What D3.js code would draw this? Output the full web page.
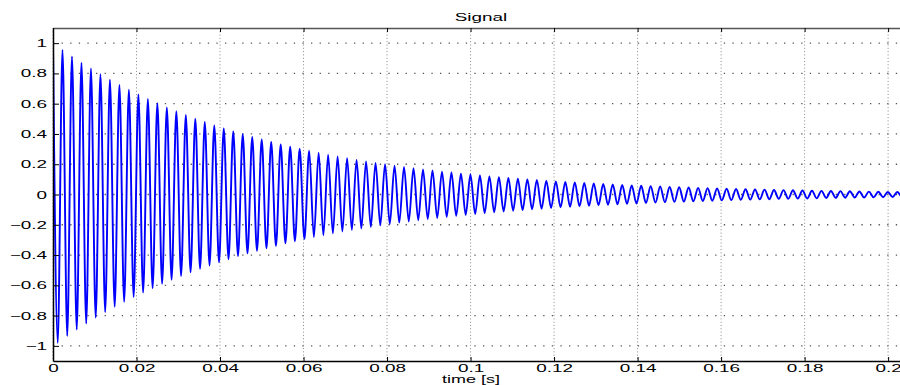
<!DOCTYPE html>
<html>
<head>
<meta charset="utf-8">
<script src="https://cdn.jsdelivr.net/npm/d3@7"></script>
<style>
  body { margin: 0; background: #fff; }
  text { font-family: "Liberation Sans", Arial, Helvetica, sans-serif; fill: #000; }
</style>
</head>
<body>
<div id="chart"></div>
<script>
var svgWidth = 900, svgHeight = 385;
var plot = { left: 53, right: 909, top: 28, bottom: 361 };
var stretch = 1.8; // the reference text is drawn wide

// peak (max) and trough (min) of every cycle
var peaks = [1.000, 0.955, 0.912, 0.871, 0.832, 0.794, 0.759, 0.724, 0.692, 0.661,
  0.631, 0.603, 0.575, 0.550, 0.525, 0.501, 0.479, 0.457, 0.437, 0.417,
  0.398, 0.380, 0.363, 0.347, 0.331, 0.316, 0.302, 0.289, 0.276, 0.263,
  0.251, 0.240, 0.229, 0.219, 0.209, 0.200, 0.191, 0.182, 0.174, 0.166,
  0.159, 0.151, 0.145, 0.138, 0.132, 0.126, 0.120, 0.115, 0.110, 0.105,
  0.100, 0.096, 0.091, 0.087, 0.083, 0.080, 0.076, 0.073, 0.069, 0.066,
  0.063, 0.060, 0.058, 0.055, 0.053, 0.050, 0.048, 0.046, 0.044, 0.042,
  0.040, 0.038, 0.036, 0.035, 0.033, 0.032, 0.030, 0.029, 0.028, 0.026,
  0.025, 0.024, 0.023, 0.022, 0.021, 0.020, 0.019, 0.018, 0.017, 0.017, 0.016];
var troughs = [-0.980, -0.935, -0.893, -0.853, -0.814, -0.777, -0.742, -0.709, -0.677, -0.648,
  -0.619, -0.590, -0.563, -0.538, -0.514, -0.491, -0.469, -0.448, -0.428, -0.408,
  -0.389, -0.372, -0.355, -0.339, -0.323, -0.309, -0.295, -0.282, -0.269, -0.257,
  -0.245, -0.234, -0.224, -0.214, -0.204, -0.195, -0.186, -0.178, -0.170, -0.162,
  -0.155, -0.148, -0.141, -0.135, -0.129, -0.123, -0.117, -0.112, -0.107, -0.103,
  -0.098, -0.094, -0.089, -0.085, -0.081, -0.078, -0.074, -0.071, -0.068, -0.065,
  -0.062, -0.059, -0.056, -0.054, -0.051, -0.049, -0.047, -0.045, -0.043, -0.041,
  -0.039, -0.037, -0.035, -0.034, -0.032, -0.031, -0.029, -0.028, -0.027, -0.026,
  -0.025, -0.023, -0.022, -0.021, -0.020, -0.020, -0.019, -0.018, -0.017, -0.016];
var halfPeriod = 0.001136; // time between a peak and the next trough (s)

var xTicks = [0, 0.02, 0.04, 0.06, 0.08, 0.1, 0.12, 0.14, 0.16, 0.18, 0.2];
var xLabels = ["0", "0.02", "0.04", "0.06", "0.08", "0.1", "0.12", "0.14", "0.16", "0.18", "0.2"];
var yTicks = [-1, -0.8, -0.6, -0.4, -0.2, 0, 0.2, 0.4, 0.6, 0.8, 1];
var yLabels = ["\u22121", "\u22120.8", "\u22120.6", "\u22120.4", "\u22120.2", "0", "0.2", "0.4", "0.6", "0.8", "1"];

var points = [];
peaks.forEach(function(p, k) {
  points.push({ t: 2 * k * halfPeriod, v: p });
  if (k < troughs.length) points.push({ t: (2 * k + 1) * halfPeriod, v: troughs[k] });
});

var svg = d3.select("#chart").append("svg")
  .attr("width", svgWidth)
  .attr("height", svgHeight);

var x = d3.scaleLinear().domain([0, 0.205]).range([plot.left, plot.right]);
var y = d3.scaleLinear().domain([-1.1, 1.1]).range([plot.bottom, plot.top]);

// dotted grid
svg.append("g").selectAll("line").data(yTicks).enter().append("line")
  .attr("x1", plot.left).attr("x2", plot.right)
  .attr("y1", function(d) { return y(d); }).attr("y2", function(d) { return y(d); })
  .attr("stroke", "#555").attr("stroke-width", 1.3)
  .attr("stroke-dasharray", "1.3,7.3");
svg.append("g").selectAll("line").data(xTicks).enter().append("line")
  .attr("x1", function(d) { return x(d); }).attr("x2", function(d) { return x(d); })
  .attr("y1", plot.top).attr("y2", plot.bottom)
  .attr("stroke", "#888").attr("stroke-width", 1)
  .attr("stroke-dasharray", "1,2.3");

// signal
svg.append("clipPath").attr("id", "clip").append("rect")
  .attr("x", plot.left).attr("y", plot.top)
  .attr("width", plot.right - plot.left).attr("height", plot.bottom - plot.top);

var line = d3.line()
  .x(function(d) { return x(d.t); })
  .y(function(d) { return y(d.v); })
  .curve(d3.curveMonotoneX);

svg.append("path")
  .datum(points)
  .attr("clip-path", "url(#clip)")
  .attr("fill", "none")
  .attr("stroke", "#0000ff")
  .attr("stroke-width", 1.9)
  .attr("d", line);

// axes, ticks pointing inward like matlab
var xAxis = svg.append("g")
  .attr("transform", "translate(0," + plot.bottom + ")")
  .call(d3.axisBottom(x).tickValues(xTicks).tickSizeInner(-4).tickSizeOuter(0)
    .tickFormat(function(d, i) { return xLabels[i]; }));
xAxis.selectAll(".tick text")
  .attr("y", 11.5).attr("dy", 0)
  .attr("transform", "scale(" + stretch + ",1)");

svg.append("g")
  .attr("transform", "translate(0," + plot.top + ")")
  .call(d3.axisTop(x).tickValues(xTicks).tickSizeInner(-4).tickSizeOuter(0).tickFormat(""))
  .select(".domain").attr("stroke", "#555").attr("stroke-width", 1.3);

var yAxis = svg.append("g")
  .attr("transform", "translate(" + plot.left + ",0)")
  .call(d3.axisLeft(y).tickValues(yTicks).tickSizeInner(-6).tickSizeOuter(0)
    .tickFormat(function(d, i) { return yLabels[i]; }));
yAxis.selectAll(".tick text")
  .attr("x", -6 / stretch).attr("dy", "0.34em")
  .attr("transform", "scale(" + stretch + ",1)");

svg.append("g")
  .attr("transform", "translate(" + plot.right + ",0)")
  .call(d3.axisRight(y).tickValues(yTicks).tickSizeInner(-6).tickSizeOuter(0).tickFormat(""));

svg.selectAll(".domain").filter(function() { return d3.select(this).attr("stroke") !== "#555"; })
  .attr("stroke", "#000").attr("stroke-width", 1.5);
svg.selectAll(".tick line").attr("stroke", "#000").attr("stroke-width", 1);
svg.selectAll(".tick text")
  .style("font-size", "10.5px")
  .style("font-family", "'Liberation Sans', Arial, sans-serif")
  .attr("fill", "#000");

// title and axis label
svg.append("text")
  .attr("transform", "translate(481,21) scale(" + stretch + ",1)")
  .attr("text-anchor", "middle")
  .style("font-size", "10.5px")
  .text("Signal");

svg.append("text")
  .attr("transform", "translate(471,383) scale(" + stretch + ",1)")
  .attr("text-anchor", "middle")
  .style("font-size", "10px")
  .text("time [s]");
</script>
</body>
</html>
